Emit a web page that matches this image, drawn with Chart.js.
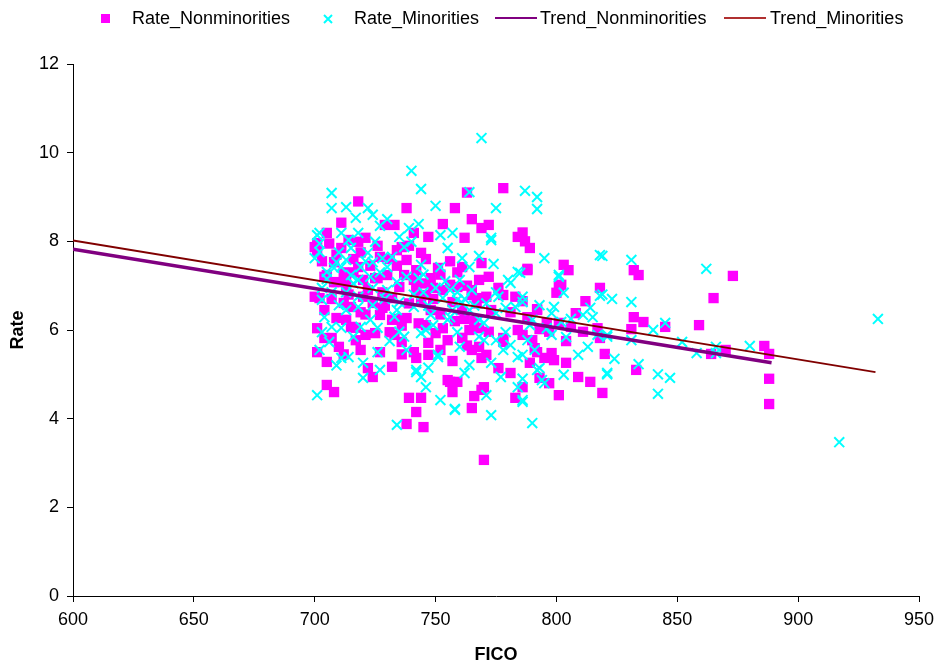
<!DOCTYPE html>
<html>
<head>
<meta charset="utf-8">
<script src="https://cdn.jsdelivr.net/npm/chart.js@4"></script>
<style>
  html, body { margin: 0; padding: 0; background: #fff; }
  #wrap { position: relative; width: 935px; height: 671px; font-family: 'Liberation Sans', Arial, sans-serif; }
  #chart { position: absolute; left: 0; top: 0; }
  .lg { position: absolute; top: 8px; font-size: 18px; line-height: 20px; color: #000; white-space: nowrap; }
  .mk { position: absolute; }
</style>
</head>
<body>
<div id="wrap">
  <canvas id="chart" width="935" height="671"></canvas>
  <div class="mk" style="left:101px;top:14px;width:9px;height:9px;background:#ff00ff"></div>
  <div class="lg" style="left:132px">Rate_Nonminorities</div>
  <svg class="mk" style="left:323px;top:14px" width="10" height="10"><path d="M1 1L9 9M9 1L1 9" stroke="#00ffff" stroke-width="2"/></svg>
  <div class="lg" style="left:354px">Rate_Minorities</div>
  <div class="mk" style="left:495px;top:17px;width:42px;height:2px;background:#800080"></div>
  <div class="lg" style="left:540px">Trend_Nonminorities</div>
  <div class="mk" style="left:724px;top:17px;width:42px;height:2px;background:#b03030"></div>
  <div class="lg" style="left:770px">Trend_Minorities</div>
</div>
<script>
'use strict';

// ─── Data ─────────────────────────────────────────────────────────────────────
const ficoNon = [770,778,763,718,758,738,765,769,772,786,784,787,789,711,729,733,753,705,741,747,
  701,700,714,721,736,744,701,762,761,769,788,803,805,772,873,865,859,832,834,832,
  836,831,845,870,864,886,888,888,888,833,820,819,818,818,801,800,812,786,792,788,
  808,796,801,806,811,817,793,786,790,804,792,798,789,799,804,809,814,793,797,801,
  786,788,802,759,765,769,778,783,792,784,797,761,768,772,778,765,769,791,795,776,
  781,759,770,766,783,765,704,709,702,713,715,722,725,730,728,735,741,746,753,757,
  701,709,715,707,701,705,710,717,721,725,727,722,724,732,733,736,732,738,742,747,
  752,755,746,750,705,708,739,744,742,738,745,755,757,718,727,734,738,708,718,705,
  708,713,720,726,737,711,751,748,756,768,712,720,724,732,727,713,704,744,765,771,
  753,761,764,768,741,747,771,778,756,769,700,748,736,719,762,742,728,716,746,
  703,706,709,712,716,719,723,726,731,734,739,742,745,749,752,756,759,763,767,704,
  707,714,717,721,729,731,735,739,743,749,752,758,761,766,773,776,781,712,719,736,
  757,763];
const rateNon = [3.07,9.2,9.1,8.9,8.75,8.75,8.5,8.3,8.37,8.2,8.1,8.0,7.85,8.42,8.37,8.37,8.39,8.19,8.19,8.1,
  7.96,7.87,8.03,8.08,7.87,7.74,7.76,8.08,7.42,7.51,7.35,7.47,7.35,7.2,7.22,6.72,6.11,7.35,7.24,6.29,
  6.18,6.02,6.07,5.55,5.46,5.64,5.46,4.9,4.33,5.1,5.46,4.58,6.95,5.82,6.99,6.84,6.65,6.65,6.47,6.29,
  6.38,6.16,6.16,6.07,5.96,6.04,6.02,5.89,5.77,5.75,5.5,5.48,5.26,5.32,5.26,4.94,4.83,4.92,4.8,4.53,
  4.71,7.38,7.02,6.97,6.9,6.72,6.79,6.75,6.45,6.0,5.96,5.82,6.04,5.96,5.73,5.55,5.37,5.59,5.37,5.14,
  5.03,4.83,4.71,4.51,4.47,4.24,7.2,7.08,6.72,6.95,6.52,6.9,7.17,7.24,6.5,6.97,7.13,6.79,6.9,6.63,
  6.04,6.27,6.07,5.82,5.5,5.28,5.62,5.77,5.89,5.93,5.5,5.14,4.94,5.17,5.89,5.73,6.23,6.27,5.37,5.71,
  5.55,5.77,6.11,5.93,4.76,4.6,4.47,4.47,4.15,3.88,3.81,4.87,4.6,7.99,7.65,7.8,7.58,7.53,7.42,7.24,
  7.08,7.13,7.13,7.17,7.24,7.85,7.4,7.17,7.02,7.13,6.61,6.75,6.61,6.72,6.34,6.23,5.82,6.68,6.79,6.75,
  6.04,5.82,6.0,5.62,5.5,5.44,5.44,5.82,4.83,4.65,6.75,6.45,6.1,6.4,6.25,6.9,6.85,7.3,7.6,
  7.55,7.95,7.7,7.3,7.6,7.75,7.45,7.9,7.6,7.45,7.9,7.35,7.05,6.95,7.25,7.55,7.3,7.0,6.6,6.45,
  6.7,6.8,6.05,6.35,6.55,5.95,6.25,6.6,6.15,6.7,6.35,6.2,6.45,6.2,6.45,6.95,6.4,5.45,5.55,5.45,
  5.3,5.65];

const ficoMin = [933,917,862,831,823,831,845,840,831,821,852,858,866,866,880,824,834,821,842,847,
  842,819,819,769,740,744,707,707,713,750,717,722,724,730,727,743,739,764,787,792,
  792,775,795,818,757,773,761,768,774,785,801,764,801,803,818,786,786,793,799,814,
  811,806,802,815,789,796,788,798,804,817,821,791,813,809,786,792,803,821,795,786,
  786,793,794,777,784,786,773,790,758,771,762,764,773,784,778,775,781,770,760,770,
  764,759,781,783,790,798,775,768,761,701,720,727,720,711,714,702,706,742,744,746,
  752,758,734,738,751,735,723,719,707,704,703,710,718,724,735,741,743,753,757,755,
  749,715,730,702,711,718,714,715,725,735,702,700,709,711,713,722,724,728,730,723,
  734,719,708,705,718,737,752,740,755,773,744,752,780,760,784,742,756,748,744,751,
  701,703,765,775,745,733,713,
  702,705,707,710,713,716,718,721,724,727,729,732,734,738,741,745,747,750,754,756,
  759,762,766,771,776,779,711,716,726,731,737,746,759,768,779,703,709,726,747];
const rateMin = [6.25,3.47,7.38,7.58,6.7,6.63,6.16,6.0,5.77,5.85,5.73,5.48,5.62,5.48,5.64,5.35,5.23,5.0,5.0,4.92,
  4.56,7.67,6.8,10.33,9.59,9.18,9.09,8.75,8.77,8.8,8.53,8.75,8.6,8.5,8.35,8.39,8.3,9.11,9.14,9.0,
  8.73,8.75,7.62,7.69,8.19,8.08,7.62,7.67,7.49,7.29,7.24,7.42,7.2,6.84,6.77,6.75,6.63,6.56,6.52,6.5,
  6.34,6.25,6.18,6.29,6.11,6.04,5.77,5.89,5.84,5.89,5.89,5.55,5.62,5.44,5.44,5.1,4.99,5.03,4.8,4.9,
  4.38,5.14,4.87,4.94,4.71,4.42,4.08,3.9,4.22,4.53,5.03,5.21,5.26,5.39,5.55,5.77,5.66,5.77,5.62,6.16,
  6.45,6.68,7.06,6.52,6.23,6.38,6.38,6.23,6.61,4.53,4.92,5.1,5.26,5.37,5.39,5.55,5.73,5.05,4.94,4.71,
  4.42,4.2,3.86,5.55,5.44,5.96,6.23,6.07,6.07,6.29,6.68,6.56,6.52,6.56,6.63,6.52,7.17,6.72,6.45,6.23,
  6.11,7.24,6.9,8.19,8.19,8.19,8.03,7.85,7.99,8.1,7.76,7.62,7.53,7.42,7.58,7.74,7.53,7.62,7.42,7.2,
  7.08,7.42,7.4,7.31,7.13,7.87,8.14,7.99,7.85,8.03,7.47,7.42,7.13,7.13,7.31,5.1,6.29,6.34,5.93,5.39,
  8.14,6.95,6.9,6.85,6.85,6.3,6.85,
  7.95,7.15,6.85,7.75,6.45,7.05,6.75,7.55,6.95,7.3,6.7,7.65,6.45,7.2,6.8,7.25,6.55,6.95,7.1,6.9,
  6.85,6.7,6.55,6.6,6.75,6.5,6.05,5.85,6.05,5.75,5.85,6.0,5.95,5.85,5.95,5.95,5.2,5.5,5.15];

// trend lines: endpoints
const trendNonX = [600, 889];
const trendNonY = [7.82, 5.26];
const trendMinX = [600, 932];
const trendMinY = [8.02, 5.05];

const xTicks = { min: 600, max: 950, step: 50 };
const yTicks = { min: 0, max: 12, step: 2 };

function pts(xs, ys) { return xs.map((x, i) => ({ x, y: ys[i] })); }

const FONT = "'Liberation Sans', Arial, sans-serif";

new Chart(document.getElementById('chart'), {
  type: 'scatter',
  data: {
    datasets: [
      {
        label: 'Trend_Minorities',
        data: pts(trendMinX, trendMinY),
        showLine: true,
        borderColor: '#800000',
        borderWidth: 2,
        pointRadius: 0,
        order: 0,
      },
      {
        label: 'Trend_Nonminorities',
        data: pts(trendNonX, trendNonY),
        showLine: true,
        borderColor: '#800080',
        borderWidth: 3.5,
        pointRadius: 0,
        order: 1,
      },
      {
        label: 'Rate_Minorities',
        data: pts(ficoMin, rateMin),
        pointStyle: 'crossRot',
        pointRadius: 7,
        borderColor: '#00ffff',
        borderWidth: 2,
        order: 2,
      },
      {
        label: 'Rate_Nonminorities',
        data: pts(ficoNon, rateNon),
        pointStyle: 'rect',
        pointRadius: 7.3,
        backgroundColor: '#ff00ff',
        borderColor: '#ff00ff',
        borderWidth: 0,
        order: 3,
      },
    ]
  },
  options: {
    responsive: false,
    animation: false,
    layout: { padding: { left: 0, right: 16, top: 64, bottom: 0 } },
    plugins: {
      legend: { display: false },
      tooltip: { enabled: false },
    },
    scales: {
      x: {
        type: 'linear',
        min: xTicks.min, max: xTicks.max,
        afterFit: (s) => { s.height = 75; s.paddingLeft = 0; s.paddingRight = 0; },
        ticks: { stepSize: xTicks.step, color: '#000', font: { family: FONT, size: 18 }, padding: 7, maxRotation: 0 },
        grid: { drawOnChartArea: false, drawTicks: true, tickLength: 6, color: '#000' },
        border: { display: true, color: '#000', width: 1 },
        title: { display: true, text: 'FICO', color: '#000', font: { family: FONT, size: 18, weight: 'bold' }, padding: { top: 0, bottom: 5 } },
      },
      y: {
        type: 'linear',
        min: yTicks.min, max: yTicks.max,
        afterFit: (s) => { s.width = 73; },
        ticks: { stepSize: yTicks.step, color: '#000', font: { family: FONT, size: 18 }, padding: 8 },
        grid: { drawOnChartArea: false, drawTicks: true, tickLength: 6, color: '#000' },
        border: { display: true, color: '#000', width: 1 },
        title: { display: true, text: 'Rate', color: '#000', font: { family: FONT, size: 18, weight: 'bold' }, padding: { top: 7, bottom: 0 } },
      }
    }
  }
});
</script>
</body>
</html>
